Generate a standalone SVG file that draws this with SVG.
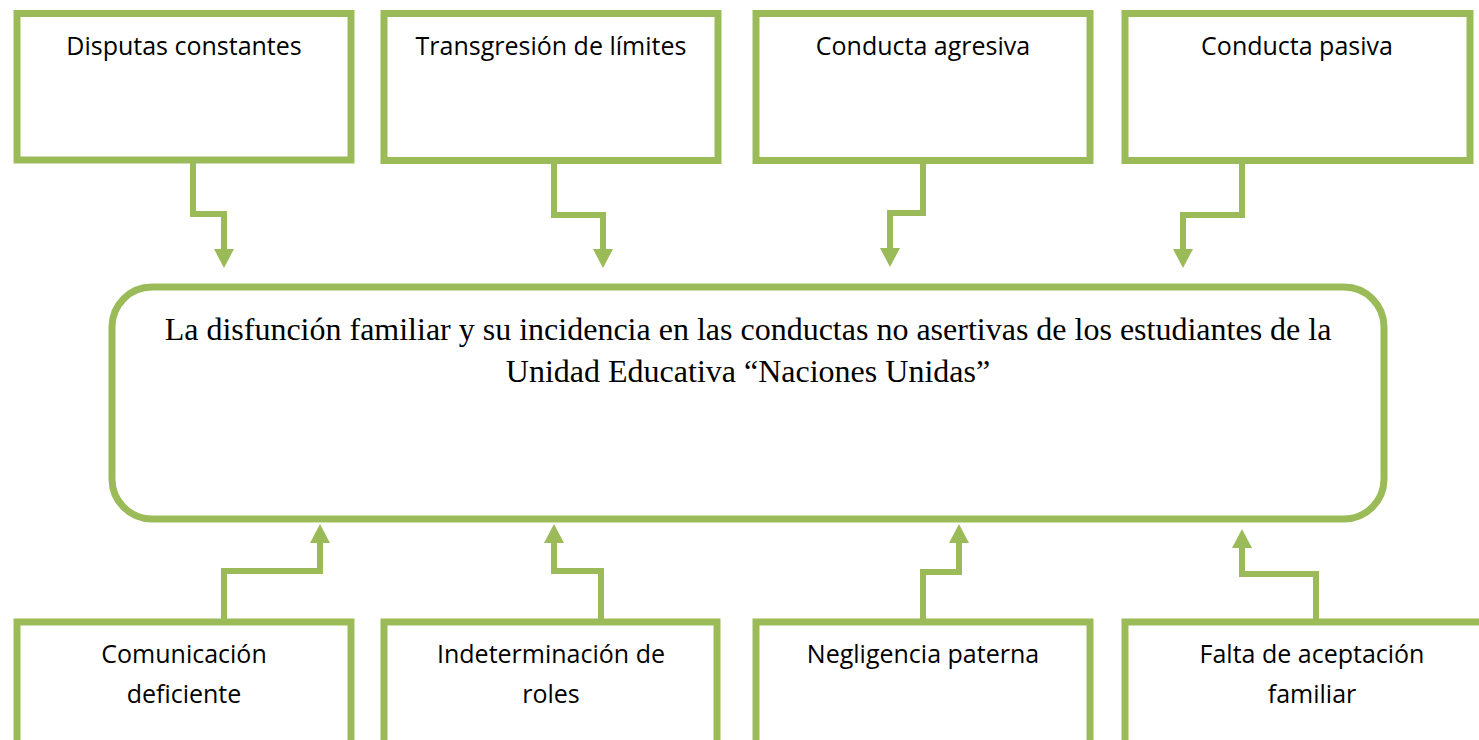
<svg xmlns="http://www.w3.org/2000/svg" width="1479" height="740" viewBox="0 0 1479 740">
  <style>
    .box { fill: #ffffff; stroke: #9BBB59; stroke-width: 7; }
    .center { fill: #ffffff; stroke: #9BBB59; stroke-width: 7; }
    .conn { fill: none; stroke: #9BBB59; stroke-width: 6; stroke-linejoin: miter; marker-end: url(#arrow); }
    .lbl { font-family: "Open Sans", "Liberation Sans", sans-serif; font-size: 25px; fill: #000000; text-anchor: middle; }
    .title { font-family: "Liberation Serif", "Times New Roman", serif; font-size: 32px; fill: #000000; text-anchor: middle; }
  </style>
  <defs>
    <marker id="arrow" markerUnits="userSpaceOnUse" viewBox="0 0 19 20" refX="0" refY="10" markerWidth="19" markerHeight="20" orient="auto">
      <path d="M0,0 L19,10 L0,20 Z" fill="#9BBB59"/>
    </marker>
  </defs>
  <rect width="1479" height="740" fill="#ffffff"/>

  <g id="connectors">
    <path class="conn" d="M193,160 V214 H224 V249"/>
    <path class="conn" d="M554,160 V215 H603 V249"/>
    <path class="conn" d="M923,160 V213 H890 V248"/>
    <path class="conn" d="M1242,160 V215 H1183 V249"/>
    <path class="conn" d="M224,622 V571 H320 V543"/>
    <path class="conn" d="M601,622 V571 H554 V543"/>
    <path class="conn" d="M923,622 V572 H959 V543"/>
    <path class="conn" d="M1316,622 V574 H1242 V548"/>
  </g>

  <g id="node-disputas">
    <rect class="box" x="17" y="13.5" width="334" height="146.5"/>
    <text class="lbl" x="184" y="55">Disputas constantes</text>
  </g>
  <g id="node-transgresion">
    <rect class="box" x="384" y="13.5" width="334" height="147"/>
    <text class="lbl" x="551" y="55">Transgresión de límites</text>
  </g>
  <g id="node-agresiva">
    <rect class="box" x="756" y="13.5" width="334" height="147"/>
    <text class="lbl" x="923" y="55">Conducta agresiva</text>
  </g>
  <g id="node-pasiva">
    <rect class="box" x="1125" y="13.5" width="345" height="147"/>
    <text class="lbl" x="1297" y="55">Conducta pasiva</text>
  </g>

  <g id="node-central">
    <rect class="center" x="112" y="287" width="1272" height="232" rx="40" ry="40"/>
    <text class="title" x="748" y="340">La disfunción familiar y su incidencia en las conductas no asertivas de los estudiantes de la</text>
    <text class="title" x="748" y="382">Unidad Educativa “Naciones Unidas”</text>
  </g>

  <g id="node-comunicacion">
    <rect class="box" x="17" y="622" width="334" height="200"/>
    <text class="lbl" x="184" y="663">Comunicación</text>
    <text class="lbl" x="184" y="703">deficiente</text>
  </g>
  <g id="node-indeterminacion">
    <rect class="box" x="384" y="622" width="333" height="200"/>
    <text class="lbl" x="551" y="663">Indeterminación de</text>
    <text class="lbl" x="551" y="703">roles</text>
  </g>
  <g id="node-negligencia">
    <rect class="box" x="756" y="622" width="334" height="200"/>
    <text class="lbl" x="923" y="663">Negligencia paterna</text>
  </g>
  <g id="node-aceptacion">
    <rect class="box" x="1125" y="622" width="375" height="200"/>
    <text class="lbl" x="1312" y="663">Falta de aceptación</text>
    <text class="lbl" x="1312" y="703">familiar</text>
  </g>
</svg>
